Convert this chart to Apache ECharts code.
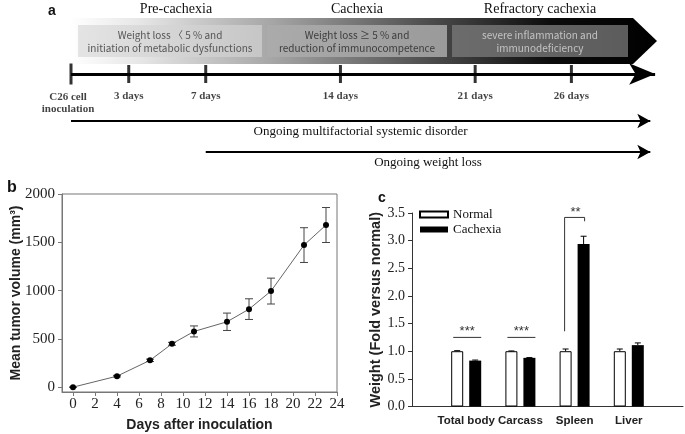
<!DOCTYPE html>
<html>
<head>
<meta charset="utf-8">
<script src="https://cdn.jsdelivr.net/npm/echarts@6/dist/echarts.min.js"></script>
<style>
html, body { margin: 0; padding: 0; background: #fff; }
#chart { width: 685px; height: 434px; }
</style>
</head>
<body>
<div id="chart"></div>
<script>
'use strict';

// panel a - stages and timeline
var stageNames = ['Pre-cachexia', 'Cachexia', 'Refractory cachexia'];
var stageNotes = [
    'Weight loss \u3008 5 % and\ninitiation of metabolic dysfunctions',
    'Weight loss \u2265 5 % and\nreduction of immunocompetence',
    'severe inflammation and\nimmunodeficiency'
];
var timelineDays = [0, 3, 7, 14, 21, 26];
var timelineLabels = ['C26 cell\ninoculation', '3 days', '7 days', '14 days', '21 days', '26 days'];
var ongoingNames = ['Ongoing multifactorial systemic disorder', 'Ongoing weight loss'];
var ongoingStart = [0, 7];

// panel b - tumor volume
var days = [0, 4, 7, 9, 11, 14, 16, 18, 21, 23];
var tumorVolume = [0, 114, 278, 449, 577, 677, 808, 995, 1471, 1679];
var tumorErr = [0, 8, 12, 15, 57, 90, 107, 134, 180, 181];
var dayTicks = [0, 2, 4, 6, 8, 10, 12, 14, 16, 18, 20, 22, 24];
var volumeTicks = [0, 500, 1000, 1500, 2000];

// panel c - organ weights
var organs = ['Total body', 'Carcass', 'Spleen', 'Liver'];
var normalWeight = [1.0, 1.0, 1.0, 1.0];
var normalErr = [0.01, 0.005, 0.04, 0.04];
var cachexiaWeight = [0.83, 0.88, 2.94, 1.11];
var cachexiaErr = [0.01, 0.005, 0.14, 0.04];
var sigOrgans = ['Total body', 'Carcass', 'Spleen'];
var sigLevel = [1.25, 1.25, 3.42];
var sigLabels = ['***', '***', '**'];
var sigFeet = [null, null, [1.36, 3.35]];

var serif = '"Liberation Serif", "Times New Roman", serif';
var sans = '"Liberation Sans", Arial, sans-serif';
var cjk = '"Noto Sans CJK KR", "Noto Sans", sans-serif';

var chart = echarts.init(document.getElementById('chart'));

// layout of panel a (pixels)
var boxes = [
    {x: 78, w: 184, fill: ['#e4e4e4', '#c6c6c6'], text: '#555'},
    {x: 267, w: 180, fill: ['#ababab', '#9a9a9a'], text: '#3c3c3c'},
    {x: 452, w: 176, fill: ['#6c6c6c', '#5c5c5c'], text: '#c4c4c4'}
];
var rowY = [0, 47, 78];
var timelineTip = 30.35;
var arrowTip = 30.1;

var graphics = [
    {
        type: 'polygon', silent: true,
        shape: {points: [[70, 18], [633, 18], [657, 41], [633, 64], [70, 64]]},
        style: {fill: new echarts.graphic.LinearGradient(0, 0, 1, 0, [
            {offset: 0, color: '#ffffff'},
            {offset: 0.12, color: '#e6e6e6'},
            {offset: 0.35, color: '#a4a4a4'},
            {offset: 0.62, color: '#4a4a4a'},
            {offset: 0.82, color: '#0c0c0c'},
            {offset: 1, color: '#000000'}
        ])}
    },
    {type: 'text', x: 52, y: 11, style: {text: 'a', font: 'bold 14px ' + sans, fill: '#111', textAlign: 'center', textVerticalAlign: 'middle'}},
    {type: 'text', x: 12, y: 188, style: {text: 'b', font: 'bold 16px ' + sans, fill: '#111', textAlign: 'center', textVerticalAlign: 'middle'}},
    {type: 'text', x: 382, y: 198, style: {text: 'c', font: 'bold 14px ' + sans, fill: '#111', textAlign: 'center', textVerticalAlign: 'middle'}}
];
boxes.forEach(function (b, i) {
    var cx = b.x + b.w / 2;
    graphics.push({
        type: 'rect', silent: true,
        shape: {x: b.x, y: 25, width: b.w, height: 32},
        style: {fill: new echarts.graphic.LinearGradient(0, 0, 1, 0, [
            {offset: 0, color: b.fill[0]}, {offset: 1, color: b.fill[1]}
        ])}
    });
    graphics.push({
        type: 'text', x: cx, y: 41.5,
        style: {text: stageNotes[i], font: '10px ' + cjk, fill: b.text,
            textAlign: 'center', textVerticalAlign: 'middle', lineHeight: 12.5}
    });
    graphics.push({
        type: 'text', x: cx + (i === 0 ? 6 : 0), y: 9,
        style: {text: stageNames[i], font: '14px ' + serif, fill: '#111',
            textAlign: 'center', textVerticalAlign: 'middle'}
    });
});

function renderTumorErr(params, api) {
    var lo = api.coord([api.value(0), api.value(1)]);
    var hi = api.coord([api.value(0), api.value(2)]);
    var st = {stroke: '#444', lineWidth: 1};
    return {type: 'group', children: [
        {type: 'line', shape: {x1: lo[0], y1: lo[1], x2: hi[0], y2: hi[1]}, style: st},
        {type: 'line', shape: {x1: lo[0] - 4, y1: lo[1], x2: lo[0] + 4, y2: lo[1]}, style: st},
        {type: 'line', shape: {x1: hi[0] - 4, y1: hi[1], x2: hi[0] + 4, y2: hi[1]}, style: st}
    ]};
}

function renderBarErr(params, api) {
    var x = api.value(0), v = api.value(1), e = api.value(2), side = api.value(3);
    var base = api.coord([x, v]);
    var top = api.coord([x, v + e]);
    var cx = base[0] + side * 9;
    var st = {stroke: '#000', lineWidth: 1};
    return {type: 'group', children: [
        {type: 'line', shape: {x1: cx, y1: base[1], x2: cx, y2: top[1]}, style: st},
        {type: 'line', shape: {x1: cx - 3, y1: top[1], x2: cx + 3, y2: top[1]}, style: st}
    ]};
}

function renderSig(params, api) {
    var x = api.value(0), lv = api.value(1), fl = api.value(2), fr = api.value(3);
    var c = api.coord([x, lv]);
    var st = {stroke: '#333', lineWidth: 1, fill: null};
    var kids = [];
    if (fl === lv && fr === lv) {
        kids.push({type: 'line', shape: {x1: c[0] - 13, y1: c[1], x2: c[0] + 15, y2: c[1]}, style: st});
    } else {
        var l = api.coord([x, fl]), r = api.coord([x, fr]);
        kids.push({type: 'polyline', shape: {points: [[c[0] - 10, l[1]], [c[0] - 10, c[1]], [c[0] + 10, c[1]], [c[0] + 10, r[1]]]}, style: st});
    }
    kids.push({type: 'text', x: c[0] + 1, y: c[1] + 1,
        style: {text: sigLabels[api.value(4)], font: '13px ' + sans, fill: '#333', textAlign: 'center', textVerticalAlign: 'bottom'}});
    return {type: 'group', children: kids};
}

function plain(v) { return String(v); }

var option = {
    animation: false,
    backgroundColor: '#fff',
    graphic: graphics,
    legend: {
        data: ['Normal', 'Cachexia'],
        orient: 'vertical', left: 419, top: 208, padding: 0,
        itemWidth: 28, itemHeight: 6, itemGap: 2, icon: 'rect',
        selectedMode: false,
        textStyle: {fontFamily: serif, fontSize: 13, color: '#111'}
    },
    grid: [
        {left: 71, top: 74, width: 587, height: 80, outerBoundsMode: 'none'},
        {left: 62, top: 194, width: 275, height: 198, show: true, borderColor: '#777', borderWidth: 1, outerBoundsMode: 'none'},
        {left: 412, top: 213, width: 271, height: 193.5, outerBoundsMode: 'none'}
    ],
    xAxis: [
        {gridIndex: 0, type: 'value', min: 0, max: 30.5, show: false},
        {
            gridIndex: 1, type: 'value', min: -1, max: 24,
            axisLine: {onZero: false, lineStyle: {color: '#777'}},
            axisTick: {customValues: dayTicks, length: 4, lineStyle: {color: '#777'}},
            axisLabel: {customValues: dayTicks, margin: 5, fontFamily: serif, fontSize: 15, color: '#222', formatter: plain},
            splitLine: {show: false},
            name: 'Days after inoculation', nameLocation: 'middle', nameGap: 26, nameMoveOverlap: false,
            nameTextStyle: {fontFamily: sans, fontWeight: 'bold', fontSize: 14, color: '#222'}
        },
        {
            gridIndex: 2, type: 'category', data: [''].concat(organs, ['']), boundaryGap: false,
            axisLine: {lineStyle: {color: '#333'}},
            axisTick: {show: false},
            axisLabel: {interval: 0, margin: 8, fontFamily: sans, fontWeight: 'bold', fontSize: 11.5, color: '#222',
                hideOverlap: false},
            splitLine: {show: false}
        }
    ],
    yAxis: [
        {gridIndex: 0, type: 'value', min: 0, max: 80, inverse: true, show: false},
        {
            gridIndex: 1, type: 'value', min: -50, max: 2000,
            axisLine: {show: true, onZero: false, lineStyle: {color: '#777'}},
            axisTick: {show: true, customValues: volumeTicks, length: 4, lineStyle: {color: '#777'}},
            axisLabel: {customValues: volumeTicks, margin: 7, fontFamily: serif, fontSize: 15, color: '#222', formatter: plain},
            splitLine: {show: false},
            name: 'Mean tumor volume (mm\u00b3)', nameLocation: 'middle', nameGap: 39, nameMoveOverlap: false,
            nameTextStyle: {fontFamily: sans, fontWeight: 'bold', fontSize: 14, color: '#222'}
        },
        {
            gridIndex: 2, type: 'value', min: 0, max: 3.5, interval: 0.5,
            axisLine: {show: true, lineStyle: {color: '#333'}},
            axisTick: {show: true, length: 4, lineStyle: {color: '#333'}},
            axisLabel: {margin: 7, fontFamily: serif, fontSize: 14, color: '#222',
                formatter: function (v) { return v.toFixed(1); }},
            splitLine: {show: false},
            name: 'Weight (Fold versus normal)', nameLocation: 'middle', nameGap: 29, nameMoveOverlap: false,
            nameTextStyle: {fontFamily: sans, fontWeight: 'bold', fontSize: 14.5, color: '#222'}
        }
    ],
    series: [
        {
            name: 'timeline', type: 'scatter', xAxisIndex: 0, yAxisIndex: 0, clip: false,
            symbol: 'rect',
            data: timelineDays.map(function (d, i) {
                return {value: [d, rowY[0]], symbolSize: i === 0 ? [3, 21] : [3, 18],
                    label: {offset: i === 0 ? [-3, 0] : [0, 0]}};
            }),
            itemStyle: {color: '#000'},
            label: {
                show: true, position: 'bottom', distance: 7,
                fontFamily: serif, fontWeight: 'bold', fontSize: 11, lineHeight: 12, color: '#111',
                formatter: function (p) { return timelineLabels[p.dataIndex]; }
            },
            markLine: {
                silent: true, symbol: ['none', 'arrow'],
                data: [
                    [{coord: [0, rowY[0]], lineStyle: {width: 3, color: '#000', type: 'solid'}, label: {show: false}},
                     {coord: [timelineTip, rowY[0]], symbolSize: [16, 26]}],
                    [{coord: [ongoingStart[0], rowY[1]], lineStyle: {width: 2, color: '#000', type: 'solid'},
                      label: {show: true, formatter: ongoingNames[0]}},
                     {coord: [arrowTip, rowY[1]], symbolSize: [11, 13]}],
                    [{coord: [ongoingStart[1], rowY[2]], lineStyle: {width: 2, color: '#000', type: 'solid'},
                      label: {show: true, formatter: ongoingNames[1]}},
                     {coord: [arrowTip, rowY[2]], symbolSize: [11, 13]}]
                ],
                label: {position: 'insideMiddleBottom', distance: 4, fontFamily: serif, fontSize: 13, color: '#111'}
            }
        },
        {
            name: 'tumorErr', type: 'custom', xAxisIndex: 1, yAxisIndex: 1,
            renderItem: renderTumorErr,
            encode: {x: 0, y: [1, 2]},
            data: days.map(function (d, i) {
                return [d, tumorVolume[i] - tumorErr[i], tumorVolume[i] + tumorErr[i]];
            }),
            z: 2
        },
        {
            name: 'tumor', type: 'line', xAxisIndex: 1, yAxisIndex: 1,
            data: days.map(function (d, i) { return [d, tumorVolume[i]]; }),
            symbol: 'circle', symbolSize: 6, showSymbol: true,
            itemStyle: {color: '#000'},
            lineStyle: {color: '#666', width: 1},
            z: 3
        },
        {
            name: 'Normal', type: 'bar', xAxisIndex: 2, yAxisIndex: 2,
            data: normalWeight.map(function (v, i) { return [i + 1, v]; }),
            barWidth: 12, barGap: '50%',
            itemStyle: {color: '#fff', borderColor: '#000', borderWidth: 1}
        },
        {
            name: 'Cachexia', type: 'bar', xAxisIndex: 2, yAxisIndex: 2,
            data: cachexiaWeight.map(function (v, i) { return [i + 1, v]; }),
            barWidth: 12, barGap: '50%',
            itemStyle: {color: '#000'}
        },
        {
            name: 'weightErr', type: 'custom', xAxisIndex: 2, yAxisIndex: 2,
            renderItem: renderBarErr,
            data: normalWeight.map(function (v, i) { return [i + 1, v, normalErr[i], -1]; })
                .concat(cachexiaWeight.map(function (v, i) { return [i + 1, v, cachexiaErr[i], 1]; })),
            z: 3
        },
        {
            name: 'sig', type: 'custom', xAxisIndex: 2, yAxisIndex: 2,
            renderItem: renderSig,
            data: sigOrgans.map(function (o, i) {
                var f = sigFeet[i] || [sigLevel[i], sigLevel[i]];
                return [organs.indexOf(o) + 1, sigLevel[i], f[0], f[1], i];
            }),
            z: 3
        }
    ]
};

chart.setOption(option);
</script>
</body>
</html>
